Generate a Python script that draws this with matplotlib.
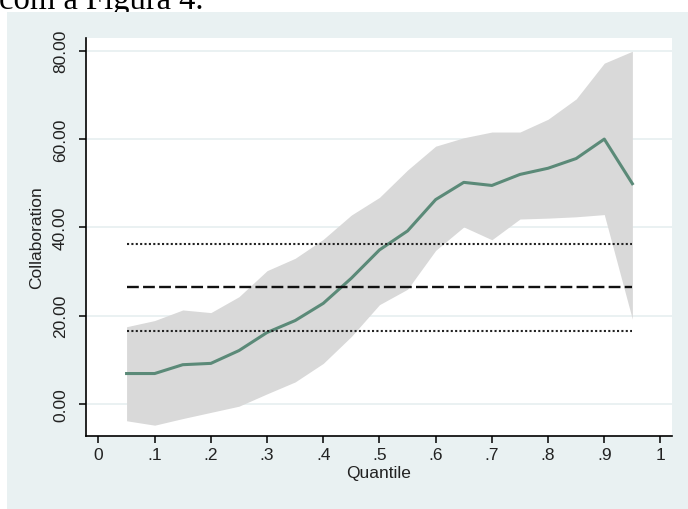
import numpy as np
import matplotlib
matplotlib.use("Agg")
import matplotlib.pyplot as plt
from matplotlib.patches import Rectangle

# quantile regression coefficients with 95% band, plus OLS estimate and its CI
quantiles = [0.05, 0.10, 0.15, 0.20, 0.25, 0.30, 0.35, 0.40, 0.45, 0.50,
             0.55, 0.60, 0.65, 0.70, 0.75, 0.80, 0.85, 0.90, 0.95]
coef = [6.9, 6.9, 8.9, 9.2, 12.1, 16.2, 18.9, 22.8, 28.5, 34.9,
        39.2, 46.3, 50.2, 49.5, 52.0, 53.4, 55.6, 60.0, 49.9]
upper = [17.5, 18.9, 21.3, 20.7, 24.3, 30.2, 33.0, 37.3, 42.8, 46.8,
         53.0, 58.4, 60.3, 61.6, 61.6, 64.5, 69.1, 77.2, 79.9]
lower = [-3.8, -4.8, -3.3, -1.9, -0.5, 2.3, 5.0, 9.2, 15.3, 22.5,
         26.0, 34.8, 40.1, 37.2, 41.9, 42.1, 42.4, 42.9, 19.2]
ols = 26.4
ols_lo = 16.6
ols_hi = 36.2

xticks = [0, 0.1, 0.2, 0.3, 0.4, 0.5, 0.6, 0.7, 0.8, 0.9, 1.0]
xlabels = ["0", ".1", ".2", ".3", ".4", ".5", ".6", ".7", ".8", ".9", "1"]
yticks = [0, 20, 40, 60, 80]

plt.rcParams['font.family'] = ['Liberation Sans', 'DejaVu Sans']

W, H = 688, 510
fig = plt.figure(figsize=(W / 100, H / 100), dpi=100)
fig.patch.set_facecolor("white")

# page text above the graph (cut off at the top)
fig.text(-1 / W, 1 - 8.5 / H, "com a Figura 4.", family=['Liberation Serif', 'DejaVu Serif'],
         fontsize=23.5, color="black", va="baseline", ha="left", zorder=1)
fig.patches.append(Rectangle((7 / W, 0), 1 - 7 / W, 1 - 12.7 / H, transform=fig.transFigure,
                             facecolor="#e9f1f2", edgecolor="none", zorder=2))

ax = fig.add_axes([86 / W, 1 - 437 / H, (672 - 86) / W, (437 - 39) / H], zorder=3)
ax.set_facecolor("white")

ax.fill_between(quantiles, lower, upper, color="#d9d9d9", linewidth=0, zorder=2)
ax.plot(quantiles, coef, color="#5b8a78", lw=2.2, zorder=3)

x0, x1 = quantiles[0], quantiles[-1]
ax.hlines(ols, x0, x1, color="#111111", lw=1.7, linestyles=[(0, (5, 1.8))], zorder=4)
ax.hlines([ols_lo, ols_hi], x0, x1, color="#222222", lw=1.5, linestyles=[(0, (1, 1.1))], zorder=4)

for y in yticks:
    ax.axhline(y, color="#e6eff0", lw=1.2, zorder=1)

ax.set_xlim(-0.0222, 1.0205)
ax.set_ylim(-7.25, 82.9)
ax.set_xticks(xticks)
ax.set_xticklabels(xlabels)
ax.set_yticks(yticks)
ax.set_yticklabels(["%.2f" % v for v in yticks], rotation=90, va="center")

for s in ["top", "right"]:
    ax.spines[s].set_visible(False)
for s in ["left", "bottom"]:
    ax.spines[s].set_linewidth(1.2)
    ax.spines[s].set_color("black")

ax.tick_params(axis="both", direction="out", length=5, width=1.1, colors="black",
               labelsize=12.5, labelcolor="#222222")
ax.tick_params(axis="x", pad=3)
ax.tick_params(axis="y", pad=8)

ax.set_xlabel("Quantile", fontsize=12.5, color="#222222", labelpad=2)
ax.set_ylabel("Collaboration", fontsize=12.5, color="#222222", labelpad=6)

fig.savefig("out.png", dpi=100)
